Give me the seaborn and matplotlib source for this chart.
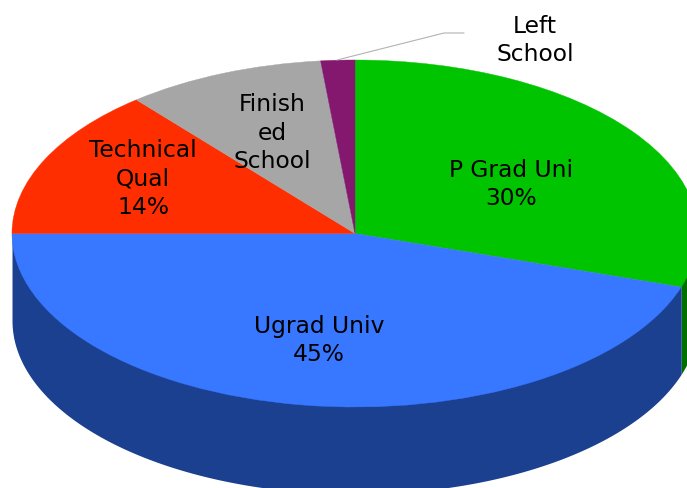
import matplotlib.pyplot as plt
import numpy as np
import seaborn as sns

categories = ["P Grad Uni", "Ugrad Univ", "Technical Qual", "Finished School", "Left School"]
shares = [30, 45, 14, 9.4, 1.6]
top_colors = ["#00c400", "#3877ff", "#ff2e00", "#a6a6a6", "#84186f"]
side_colors = ["#006f00", "#1a408f", "#901a00", "#5e5e5e", "#4a0d3f"]

# pixel geometry of the ellipse in the 687x489 image
CX, CY, RX, RY, DEPTH = 355, 234.5, 343, 173.5, 87


def px(x, y):
    """Image pixel to pie units."""
    return (x - CX) / RX, (CY - y) / RY


sns.set_theme(style="white")
plt.rcParams["font.family"] = ["DejaVu Sans"]

fig = plt.figure(figsize=(6.87, 4.89), dpi=100)
ax = fig.add_axes([0, 0, 1, 1])

wedges, _ = ax.pie(
    shares,
    colors=sns.color_palette(top_colors),
    startangle=90,
    counterclock=False,
    radius=1,
    normalize=True,
)
# thin edge in the slice's own colour hides the seams between slices
for wedge in wedges:
    wedge.set_edgecolor(wedge.get_facecolor())
    wedge.set_linewidth(0.3)
ax.set_aspect("auto")
ax.set_xlim(px(0, 0)[0], px(687, 0)[0])
ax.set_ylim(px(0, 489)[1], px(0, 0)[1])

# side wall, only the part that faces the viewer (angles below 0 degrees)
drop = DEPTH / RY
ends = 90 - np.cumsum(shares) * 360 / sum(shares)
starts = np.concatenate([[90], ends[:-1]])
for start, end, color in zip(starts, ends, side_colors):
    a = min(start, 0)
    b = max(end, -180)
    if a <= b:
        continue
    theta = np.radians(np.linspace(a, b, 200))
    # top edge tucked under the lid so no light seam shows
    ax.fill_between(
        np.cos(theta),
        np.sin(theta) + 0.02,
        np.sin(theta) - drop,
        color=color,
        linewidth=0,
        zorder=0,
    )

# labels, placed at their image positions
label_text = ["P Grad Uni\n30%", "Ugrad Univ\n45%", "Technical\nQual\n14%", "Finish\ned\nSchool", "Left\nSchool"]
label_pos = [(511, 184.5), (319, 340.5), (143, 179), (272, 133), (535, 40.5)]
for text, (x, y) in zip(label_text, label_pos):
    ax.text(
        *px(x, y),
        text,
        ha="center",
        va="center",
        fontsize=16.8,
        linespacing=1.3,
        color="black",
        zorder=5,
    )

# leader line for the smallest slice
leader = np.array([px(337, 61), px(444, 34), px(464, 34)])
ax.plot(leader[:, 0], leader[:, 1], color="#b3b3b3", linewidth=0.8, zorder=4)

fig.savefig("out.png", dpi=100, facecolor="white")
